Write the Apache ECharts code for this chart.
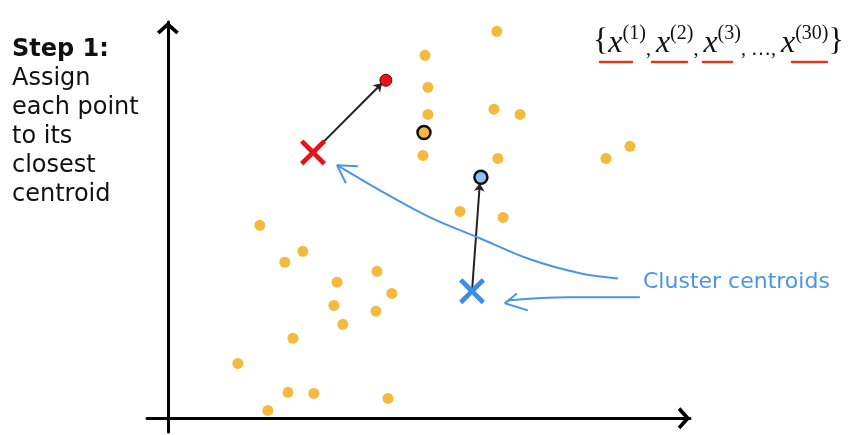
<!DOCTYPE html>
<html>
<head>
<meta charset="utf-8">
<script src="https://cdn.jsdelivr.net/npm/echarts@6/dist/echarts.min.js"></script>
<style>
  html, body { margin: 0; background: #fff; }
  #chart { width: 850px; height: 435px; }
</style>
</head>
<body>
<div id="chart"></div>
<script>
// data points (arbitrary units, origin at the axes crossing)
const points = [
  [12.6, 14.16], [9.85, 13.28], [9.96, 12.11], [9.96, 11.12], [9.77, 9.62],
  [12.49, 11.31], [13.49, 11.12], [12.64, 9.51], [16.78, 9.51], [17.7, 9.95],
  [11.19, 7.57], [12.84, 7.35], [3.52, 7.06], [5.17, 6.11], [4.48, 5.71],
  [8.01, 5.38], [6.48, 4.98], [8.58, 4.57], [6.36, 4.13], [7.97, 3.92],
  [6.7, 3.44], [4.79, 2.93], [2.68, 2.01], [4.6, 0.95], [5.59, 0.91],
  [8.43, 0.73], [3.83, 0.29]
]
const outlinedPoint = [[9.81, 10.46]]
const redPoint = [[8.35, 12.37]]
const bluePoint = [[11.99, 8.82]]
const redCentroid = [[5.56, 9.73]]
const blueCentroid = [[11.65, 4.65]]
const assignLines = [
  [[5.56, 9.73], [8.2, 12.26]],
  [[11.65, 4.65], [11.95, 8.6]]
]
// hand drawn blue arrows pointing at the centroids
const curveToRed = [
  [17.24, 5.12], [15.79, 5.31], [13.87, 5.82], [11.95, 6.59],
  [10.04, 7.35], [8.12, 8.34], [6.48, 9.26]
]
const headRed = [[7.28, 9.22], [6.48, 9.26], [6.82, 8.6]]
const curveToBlue = [[18.08, 4.43], [15.4, 4.43], [13.1, 4.32], [12.91, 4.21]]
const headBlue = [[13.37, 4.57], [12.91, 4.21], [13.79, 3.95]]

const leftText = ['Step 1:', 'Assign', 'each point', 'to its', 'closest', 'centroid']
const labelText = 'Cluster centroids'

const YELLOW = '#f5b93d'
const BLUE = '#4a96e4'
const RED = '#e8141c'

const CHEVRON = 'path://M0,9 L10,0 L20,9 L17.6,11.4 L10,4.6 L2.4,11.4 Z'
const CROSS = 'path://M0,2.6 L2.6,0 L10,7.4 L17.4,0 L20,2.6 L12.6,10 L20,17.4 L17.4,20 L10,12.6 L2.6,20 L0,17.4 L7.4,10 Z'
const SERIF = '"Liberation Serif"'

const chart = echarts.init(document.getElementById('chart'))

const axisBase = {
  type: 'value',
  axisLabel: { show: false },
  axisTick: { show: false },
  splitLine: { show: false },
  axisLine: {
    show: true,
    onZero: true,
    symbol: ['none', CHEVRON],
    symbolSize: [22, 13],
    symbolOffset: [0, -6],
    lineStyle: { color: '#000', width: 3 }
  }
}

chart.setOption({
  animation: false,
  grid: { left: 147, right: 160, top: 22, bottom: 3 },
  xAxis: { ...axisBase, min: -0.8, max: 20 },
  yAxis: { ...axisBase, min: -0.5, max: 14.5 },
  graphic: [
    {
      type: 'text', left: 12, top: 35,
      style: {
        text: '{b|' + leftText[0] + '}\n' + leftText.slice(1).join('\n'),
        font: '24px "DejaVu Sans"', fill: '#111', lineHeight: 29,
        rich: { b: { font: 'bold 24px "DejaVu Sans"', lineHeight: 29 } }
      }
    },
    {
      type: 'text', x: 643, y: 282,
      style: { text: labelText, font: '22px "DejaVu Sans"', fill: BLUE, verticalAlign: 'middle' }
    },
    {
      type: 'text', x: 593, y: 42,
      style: {
        text: '{{x|x}{s|(1)}{c|, }{x|x}{s|(2)}{c|, }{x|x}{s|(3)}{c|, …, }{x|x}{s|(30)}}',
        font: '32px ' + SERIF, fill: '#111', verticalAlign: 'middle', lineHeight: 36,
        rich: {
          x: { font: 'italic 32px ' + SERIF, verticalAlign: 'bottom', lineHeight: 30 },
          s: { font: '20px ' + SERIF, verticalAlign: 'top', lineHeight: 35 },
          c: { font: '20px ' + SERIF, verticalAlign: 'bottom', lineHeight: 30 }
        }
      }
    },
    ...[[600, 632], [652, 687], [703, 732], [792, 827]].map(([a, b]) => ({
      type: 'line', shape: { x1: a, y1: 62, x2: b, y2: 62 },
      style: { stroke: '#d93a1f', lineWidth: 2.5, lineCap: 'round' }
    }))
  ],
  series: [
    {
      type: 'lines', coordinateSystem: 'cartesian2d', z: 3,
      symbol: ['none', 'arrow'], symbolSize: 8,
      lineStyle: { color: '#222', width: 2, opacity: 1 },
      data: assignLines.map(c => ({ coords: c }))
    },
    {
      type: 'line', smooth: 0.35, symbol: 'none', z: 4,
      lineStyle: { color: BLUE, width: 2 }, data: curveToRed
    },
    {
      type: 'line', symbol: 'none', z: 4,
      lineStyle: { color: BLUE, width: 2 }, data: headRed
    },
    {
      type: 'line', smooth: 0.3, symbol: 'none', z: 4,
      lineStyle: { color: BLUE, width: 2 }, data: curveToBlue
    },
    {
      type: 'line', symbol: 'none', z: 4,
      lineStyle: { color: BLUE, width: 2 }, data: headBlue
    },
    {
      type: 'scatter', symbolSize: 11, z: 5,
      itemStyle: { color: YELLOW, opacity: 1 }, data: points
    },
    {
      type: 'scatter', symbolSize: 13, z: 5,
      itemStyle: { color: YELLOW, borderColor: '#111', borderWidth: 2.5, opacity: 1 }, data: outlinedPoint
    },
    {
      type: 'scatter', symbolSize: 12, z: 5,
      itemStyle: { color: RED, borderColor: '#5a0a0a', borderWidth: 1, opacity: 1 }, data: redPoint
    },
    {
      type: 'scatter', symbolSize: 13, z: 5,
      itemStyle: { color: '#8cc2f4', borderColor: '#111', borderWidth: 2.5, opacity: 1 }, data: bluePoint
    },
    {
      type: 'scatter', symbol: CROSS, symbolSize: 26, z: 6,
      itemStyle: { color: RED, opacity: 1 }, data: redCentroid
    },
    {
      type: 'scatter', symbol: CROSS, symbolSize: 26, z: 6,
      itemStyle: { color: '#3a8ee8', opacity: 1 }, data: blueCentroid
    }
  ]
})
</script>
</body>
</html>
